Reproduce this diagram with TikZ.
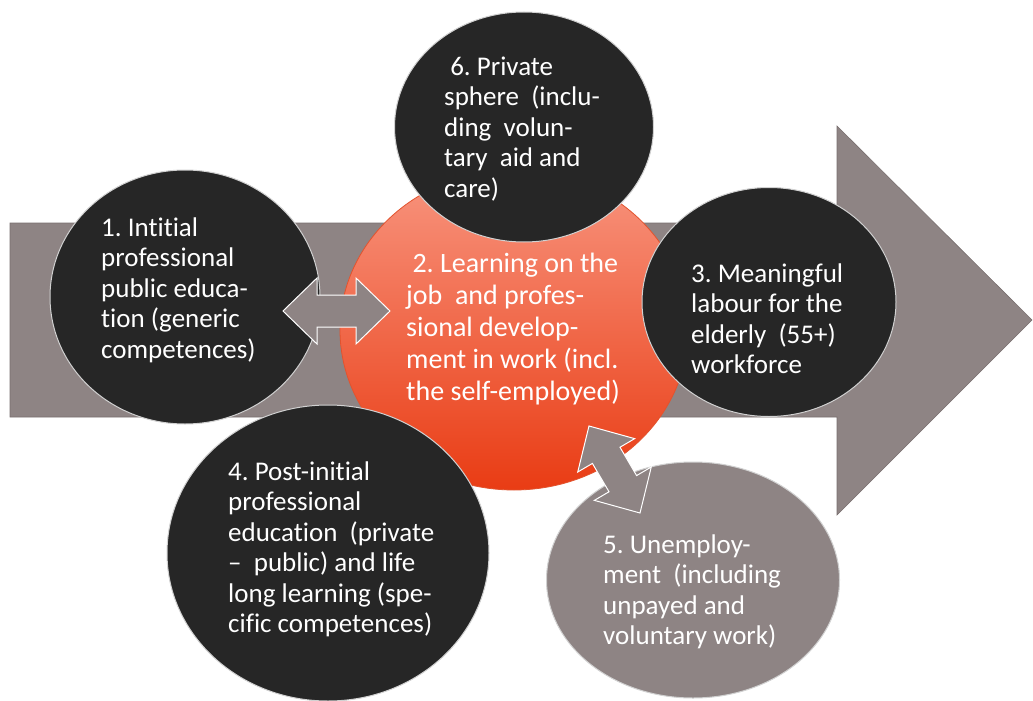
\documentclass[tikz,border=0pt]{standalone}
\usepackage{fontspec}
\setmainfont{Carlito}[Ligatures={TeX,NoCommon}]
\usetikzlibrary{shapes.geometric,calc}
\definecolor{darkc}{HTML}{262626}
\definecolor{greyc}{HTML}{8E8484}
\definecolor{redtop}{HTML}{F8957F}
\definecolor{redbot}{HTML}{E93C14}
\definecolor{rededge}{HTML}{E2532E}
\newcommand\dblblock[2]{%
  \draw[dblarr] (#1)
    -- ($(#1)!34pt!(#2)!33pt!90:(#2)$)
    -- ($(#1)!34pt!(#2)!16pt!90:(#2)$)
    -- ($(#2)!34pt!(#1)!16pt!-90:(#1)$)
    -- ($(#2)!34pt!(#1)!33pt!-90:(#1)$)
    -- (#2)
    -- ($(#2)!34pt!(#1)!33pt!90:(#1)$)
    -- ($(#2)!34pt!(#1)!16pt!90:(#1)$)
    -- ($(#1)!34pt!(#2)!16pt!-90:(#2)$)
    -- ($(#1)!34pt!(#2)!33pt!-90:(#2)$)
    -- cycle;}
\tikzset{
  blob/.style={ellipse, inner sep=0pt, draw=white!82!black, line width=1pt},
  darkblob/.style={blob, fill=darkc},
  greyblob/.style={blob, fill=greyc},
  redblob/.style={ellipse, inner sep=0pt, draw=rededge, line width=0.8pt, top color=redtop, bottom color=redbot},
  bigarrow/.style={fill=greyc, draw=greyc!85!black, line width=0.6pt},
  dblarr/.style={fill=greyc, draw=white, line width=1pt, line join=miter},
  lbl/.style={anchor=north west, inner sep=0pt, align=left, text=white, font=\fontsize{27}{30.5}\selectfont\frenchspacing},
  lblbig/.style={lbl, font=\fontsize{28}{32}\selectfont\frenchspacing}
}
\begin{document}
\begin{tikzpicture}[x=1pt, y=-1pt]
\useasboundingbox (0,0) rectangle (1033,701);
\fill[white] (0,0) rectangle (1033,701);
% big background arrow
\draw[bigarrow] (10,223) -- (837,223) -- (837,126) -- (1032,320) -- (837,515) -- (837,417) -- (10,417) -- cycle;
% circles
\node[redblob, minimum width=348pt, minimum height=320pt] (c2) at (514,330) {};
\node[darkblob, minimum width=270pt, minimum height=254pt] (c1) at (185,297) {};
\node[darkblob, minimum width=259pt, minimum height=230pt] (c6) at (524,127) {};
\node[darkblob, minimum width=254pt, minimum height=229pt] (c3) at (769,302) {};
\node[darkblob, minimum width=322pt, minimum height=296pt] (c4) at (328,553) {};
\node[greyblob, minimum width=293pt, minimum height=236pt] (c5) at (693,580) {};
% double arrows
\coordinate (a1s) at (283,311);
\coordinate (a1e) at (390,311);
\coordinate (a2s) at (589,426);
\coordinate (a2e) at (640,513);
\dblblock{a1s}{a1e}
\dblblock{a2s}{a2e}
% labels
\node[lbl] (t1) at (101,214.6) {\strut 1. Intitial\\professional\\public educa-\\tion (generic\\competences)};
\node[lbl] (t6) at (444,53.6) {\strut\ 6. Private\\sphere~ (inclu-\\ding~ volun-\\tary~ aid and\\care)};
\node[lblbig] (t2) at (406,249.6) {\strut\ 2. Learning on the\\job~ and profes-\\sional develop-\\ment in work (incl.\\the self-employed)};
\node[lbl] (t3) at (691,260.6) {\strut 3. Meaningful\\labour for the\\elderly~ (55+)\\workforce};
\node[lbl] (t4) at (228,458.6) {\strut 4. Post-initial\\professional\\education~ (private\\–~ public) and life\\long learning (spe-\\cific competences)};
\node[lbl] (t5) at (603,531.6) {\strut 5. Unemploy-\\ment~ (including\\unpayed and\\voluntary work)};
\end{tikzpicture}
\end{document}
